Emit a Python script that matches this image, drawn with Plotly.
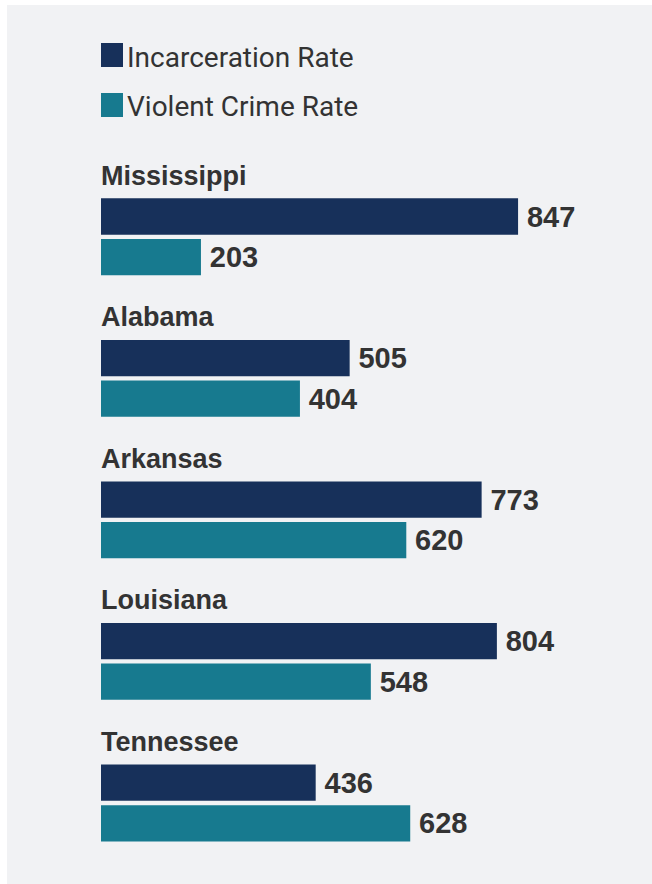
import plotly.graph_objects as go

# Data
states = ["Mississippi", "Alabama", "Arkansas", "Louisiana", "Tennessee"]
series_names = ["Incarceration Rate", "Violent Crime Rate"]
incarceration_rate = [847, 505, 773, 804, 436]
violent_crime_rate = [203, 404, 620, 548, 628]

# Styling
NAVY = "#17305a"
TEAL = "#177a8f"
PANEL = "#f1f2f4"
TEXT = "#333333"
colors = [NAVY, TEAL]

W, H = 652, 884
M_L, M_R, M_T, M_B = 101, 0, 166, 3
plot_w = W - M_L - M_R
plot_h = H - M_T - M_B


def px_to_paper_x(px):
    return (px - M_L) / plot_w


def px_to_paper_y(py):
    return (H - M_B - py) / plot_h


fig = go.Figure()
for name, vals, col in zip(series_names, [incarceration_rate, violent_crime_rate], colors):
    fig.add_trace(go.Bar(
        y=states,
        x=vals,
        name=name,
        orientation="h",
        marker=dict(color=col, line=dict(width=0)),
        text=vals,
        texttemplate="\u2009%{x}",
        textposition="outside",
        textfont=dict(family="Liberation Sans", size=29, color=TEXT, weight="bold"),
        cliponaxis=False,
        showlegend=False,
        hoverinfo="skip",
    ))

# State headings above each group
annotations = []
for s in states:
    annotations.append(dict(
        x=0, y=s, xref="x", yref="y",
        text=s, showarrow=False,
        xanchor="left", yanchor="middle",
        yshift=61, xshift=-2,
        font=dict(family="Liberation Sans", size=27, color=TEXT, weight="bold"),
    ))

# Panel background and hand-built legend
shapes = [dict(
    type="rect", xref="paper", yref="paper", layer="below",
    x0=px_to_paper_x(7), x1=px_to_paper_x(W + 2),
    y0=px_to_paper_y(H + 2), y1=px_to_paper_y(5),
    fillcolor=PANEL, line=dict(width=0),
)]
legend_tops = [43, 93]
for name, col, top in zip(series_names, colors, legend_tops):
    shapes.append(dict(
        type="rect", xref="paper", yref="paper",
        x0=px_to_paper_x(101), x1=px_to_paper_x(123),
        y0=px_to_paper_y(top + 24), y1=px_to_paper_y(top),
        fillcolor=col, line=dict(width=0),
    ))
    annotations.append(dict(
        x=px_to_paper_x(125), y=px_to_paper_y(top + 14),
        xref="paper", yref="paper", text=name, showarrow=False,
        xanchor="left", yanchor="middle",
        font=dict(family="Roboto", size=28, color=TEXT),
    ))

fig.update_layout(
    width=W, height=H,
    margin=dict(l=M_L, r=M_R, t=M_T, b=M_B, pad=0),
    paper_bgcolor="white",
    plot_bgcolor="rgba(0,0,0,0)",
    barmode="group",
    bargap=0.427,
    bargroupgap=0.105,
    xaxis=dict(range=[0, 1119], visible=False, fixedrange=True),
    yaxis=dict(autorange="reversed", visible=False, fixedrange=True),
    uniformtext=dict(mode=False),
    shapes=shapes,
    annotations=annotations,
)

fig.write_html("out.html")
